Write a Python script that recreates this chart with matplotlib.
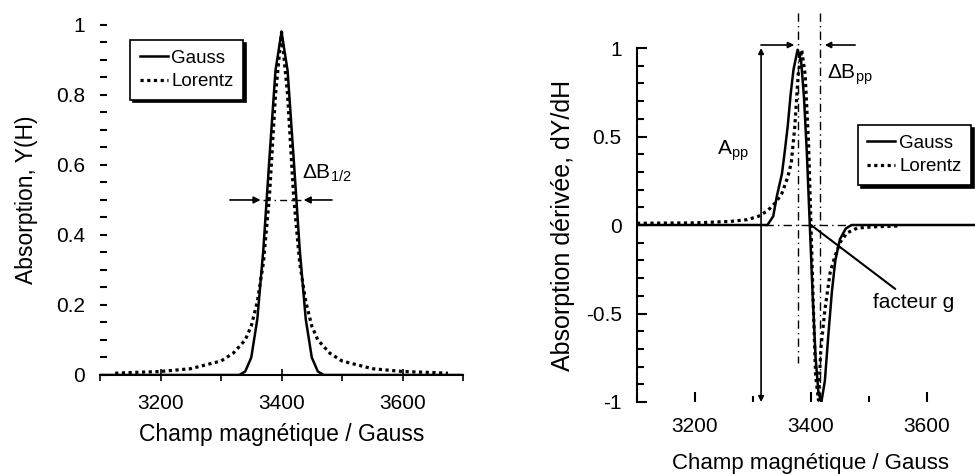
import numpy as np
import matplotlib.pyplot as plt
from matplotlib.ticker import MultipleLocator

plt.rcParams['font.family'] = ['Liberation Sans', 'DejaVu Sans']
plt.rcParams['mathtext.default'] = 'regular'

# absorption curves (left panel), field in Gauss
gauss_x = [3100, 3330, 3340, 3350, 3360, 3370, 3380, 3390, 3400, 3410, 3420, 3430, 3440, 3450, 3460, 3470, 3700]
gauss_y = [0, 0, 0.01, 0.05, 0.16, 0.36, 0.62, 0.87, 0.98, 0.87, 0.62, 0.36, 0.16, 0.05, 0.01, 0, 0]
lorentz_x = [3125, 3150, 3200, 3250, 3300, 3320, 3340, 3350, 3360, 3370, 3380, 3390, 3400,
             3410, 3420, 3430, 3440, 3450, 3460, 3480, 3500, 3550, 3600, 3650, 3675]
lorentz_y = [0.005, 0.007, 0.010, 0.018, 0.040, 0.062, 0.10, 0.14, 0.21, 0.32, 0.51, 0.80, 0.98,
             0.80, 0.51, 0.32, 0.21, 0.14, 0.10, 0.062, 0.040, 0.018, 0.010, 0.007, 0.005]

# derivative curves (right panel)
dgauss_x = [3100, 3325, 3335, 3341, 3350, 3355, 3360, 3365, 3370, 3377, 3383, 3388, 3393, 3398,
            3403, 3408, 3413, 3418, 3424, 3430, 3436, 3442, 3450, 3460, 3470, 3700]
dgauss_y = [0, 0, 0.05, 0.16, 0.29, 0.42, 0.56, 0.74, 0.88, 0.99, 0.93, 0.72, 0.40, 0.0,
            -0.40, -0.75, -0.95, -1.0, -0.88, -0.62, -0.38, -0.20, -0.08, -0.02, 0, 0]
dlorentz_x = [3100, 3200, 3260, 3290, 3310, 3325, 3340, 3350, 3360, 3366, 3372, 3378, 3384, 3390,
              3396, 3400, 3404, 3408, 3413, 3417, 3424, 3433, 3441, 3450, 3462, 3480, 3510, 3555]
dlorentz_y = [0.01, 0.012, 0.02, 0.03, 0.05, 0.08, 0.13, 0.18, 0.27, 0.35, 0.55, 0.85, 0.99, 0.85,
              0.45, 0.0, -0.45, -0.85, -0.99, -0.70, -0.48, -0.27, -0.18, -0.10, -0.045, -0.017, -0.01, -0.005]

# annotation positions
half_left = [3310, 3370]     # arrow tail / head at half height
half_right = [3488, 3432]
pp_fields = [3378, 3416]     # peak-to-peak fields
app_field = 3314

field_ticks = [3200, 3400, 3600]
abs_ticks = [0, 0.2, 0.4, 0.6, 0.8, 1]
abs_labels = ['0', '0.2', '0.4', '0.6', '0.8', '1']
der_ticks = [-1, -0.5, 0, 0.5, 1]
der_labels = ['-1', '-0.5', '0', '0.5', '1']

fig = plt.figure(figsize=(9.75, 4.74), dpi=100)
ax1 = fig.add_axes([0.1026, 0.2089, 0.3723, 0.7384])
ax2 = fig.add_axes([0.6533, 0.1519, 0.3569, 0.7468])

dot = (0, (1, 1.1))
fs = 15

# ---- left: absorption ----
ax1.plot(gauss_x, gauss_y, color='k', lw=1.8, label='Gauss')
ax1.plot(lorentz_x, lorentz_y, color='k', lw=2.3, linestyle=dot, label='Lorentz')
ax1.set_xlim(3100, 3700)
ax1.set_ylim(0, 1)
for s in ['top', 'right', 'left']:
    ax1.spines[s].set_visible(False)
ax1.spines['bottom'].set_linewidth(1.5)
ax1.set_xticks(field_ticks)
ax1.set_xticklabels([str(t) for t in field_ticks])
ax1.xaxis.set_minor_locator(MultipleLocator(100))
ax1.set_yticks(abs_ticks)
ax1.set_yticklabels(abs_labels)
ax1.yaxis.set_minor_locator(MultipleLocator(0.05))
ax1.tick_params(axis='x', which='major', direction='inout', length=8, width=1.2, pad=10, labelsize=fs)
ax1.tick_params(axis='x', which='minor', direction='out', length=4, width=1.2)
ax1.tick_params(axis='y', which='both', direction='in', length=5, width=1.5, pad=11, labelsize=fs)
ax1.set_xlabel('Champ magnétique / Gauss', fontsize=16.5, labelpad=7)
ax1.set_ylabel('Absorption, Y(H)', fontsize=16.5, labelpad=13)

ax1.annotate('', xy=(half_left[1], 0.5), xytext=(half_left[0], 0.5),
             arrowprops=dict(arrowstyle='-|>', color='k', lw=1.2, mutation_scale=10))
ax1.annotate('', xy=(half_right[1], 0.5), xytext=(half_right[0], 0.5),
             arrowprops=dict(arrowstyle='-|>', color='k', lw=1.2, mutation_scale=10))
ax1.plot([half_left[1], half_right[1]], [0.5, 0.5], color='k', lw=1, linestyle=(0, (5, 3, 1, 3)))
ax1.text(3434, 0.575, 'ΔB$_{1/2}$', fontsize=fs, va='center', ha='left')

leg1 = ax1.legend(loc='upper left', bbox_to_anchor=(0.083, 0.957), borderaxespad=0,
                  fontsize=13.5, handlelength=1.5, handletextpad=0.2, labelspacing=0.35,
                  borderpad=0.5, fancybox=False, framealpha=1, edgecolor='k',
                  shadow={'color': 'k', 'alpha': 1})
leg1.get_frame().set_linewidth(1.2)

# ---- right: derivative ----
ax2.plot(dgauss_x, dgauss_y, color='k', lw=1.8, label='Gauss')
ax2.plot(dlorentz_x, dlorentz_y, color='k', lw=2.3, linestyle=dot, label='Lorentz')
ax2.set_xlim(3100, 3700)
ax2.set_ylim(-1, 1)
for s in ['top', 'right', 'bottom']:
    ax2.spines[s].set_visible(False)
ax2.spines['left'].set_linewidth(1.5)
ax2.set_xticks(field_ticks)
ax2.set_xticklabels([str(t) for t in field_ticks])
ax2.xaxis.set_minor_locator(MultipleLocator(100))
ax2.set_yticks(der_ticks)
ax2.set_yticklabels(der_labels)
ax2.yaxis.set_minor_locator(MultipleLocator(0.1))
ax2.tick_params(axis='x', which='major', direction='in', length=7, width=1.5, pad=11, labelsize=fs)
ax2.tick_params(axis='x', which='minor', direction='in', length=4, width=1.5)
ax2.tick_params(axis='y', which='major', direction='in', length=7, width=1.5, pad=11, labelsize=fs)
ax2.tick_params(axis='y', which='minor', direction='in', length=5, width=1.5)
ax2.set_xlabel('Champ magnétique / Gauss', fontsize=16, labelpad=12)
ax2.set_ylabel('Absorption dérivée, dY/dH', fontsize=18, labelpad=8)

dashdot = (0, (6, 3, 1, 3))
ax2.plot([pp_fields[0], pp_fields[0]], [1.2, -0.78], color='k', lw=1, linestyle=dashdot, clip_on=False)
ax2.plot([pp_fields[1], pp_fields[1]], [1.2, -1.0], color='k', lw=1, linestyle=dashdot, clip_on=False)
ax2.plot([3320, 3470], [0, 0], color='k', lw=1, linestyle=dashdot)
ax2.annotate('', xy=(pp_fields[0] - 2, 1.017), xytext=(3309, 1.017),
             arrowprops=dict(arrowstyle='-|>', color='k', lw=1.2, mutation_scale=9), annotation_clip=False)
ax2.annotate('', xy=(pp_fields[1] + 3, 1.017), xytext=(3481, 1.017),
             arrowprops=dict(arrowstyle='-|>', color='k', lw=1.2, mutation_scale=9), annotation_clip=False)
ax2.annotate('', xy=(app_field, -1.0), xytext=(app_field, 1.0),
             arrowprops=dict(arrowstyle='<|-|>', color='k', lw=1.2, mutation_scale=8,
                             shrinkA=0, shrinkB=0))
ax2.text(3427, 0.85, 'ΔB$_{pp}$', fontsize=fs, va='center', ha='left')
ax2.text(3238, 0.42, 'A$_{pp}$', fontsize=fs, va='center', ha='left')
ax2.annotate('facteur g', xy=(3400, 0), xytext=(3507, -0.44), fontsize=fs, va='center', ha='left',
             arrowprops=dict(arrowstyle='-', color='k', lw=1.5, shrinkA=2, shrinkB=0))

leg2 = ax2.legend(loc='upper left', bbox_to_anchor=(0.635, 0.782), borderaxespad=0,
                  fontsize=13.5, handlelength=1.5, handletextpad=0.2, labelspacing=0.35,
                  borderpad=0.5, fancybox=False, framealpha=1, edgecolor='k',
                  shadow={'color': 'k', 'alpha': 1})
leg2.get_frame().set_linewidth(1.2)

fig.savefig('out.png', dpi=100)
